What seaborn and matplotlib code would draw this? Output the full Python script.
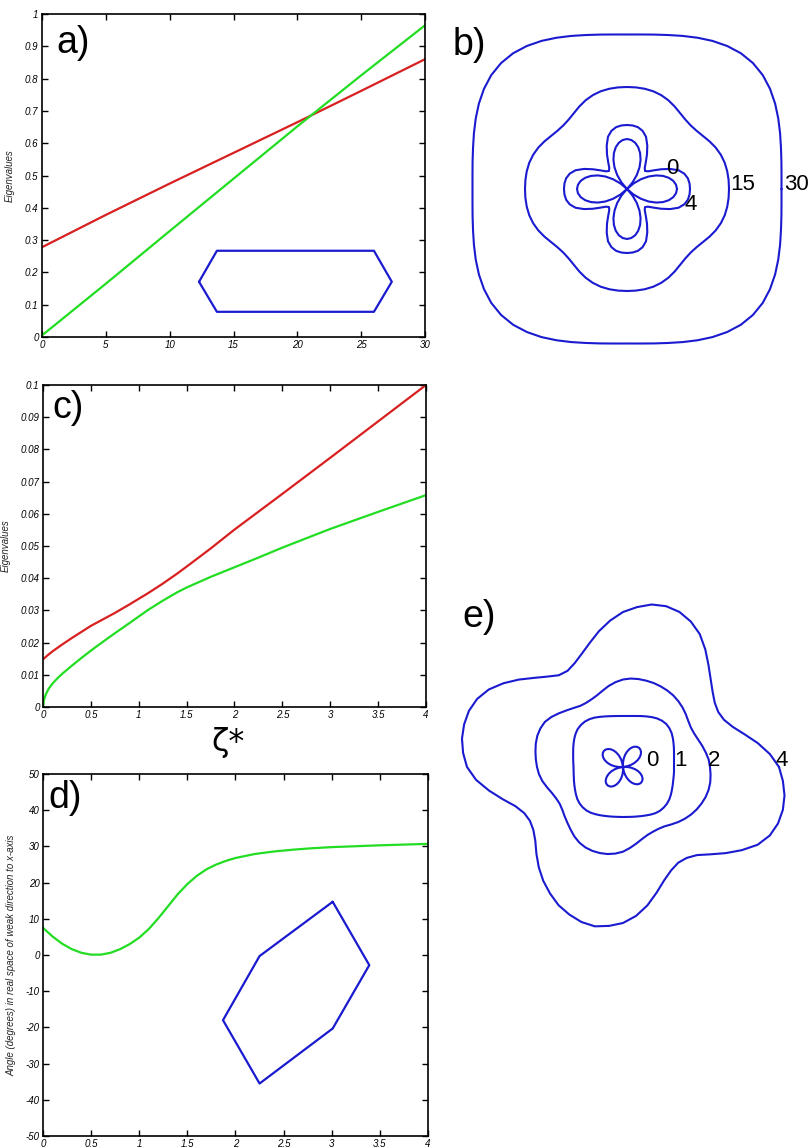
import numpy as np
import matplotlib
matplotlib.use("Agg")
import matplotlib.pyplot as plt
import seaborn as sns

# ---- panel a: eigenvalues vs parameter (0..30) ----
a_x = [0, 5, 10, 15, 20, 25, 30]
a_red = [0.278, 0.378, 0.475, 0.570, 0.665, 0.762, 0.860]
a_green = [0.005, 0.165, 0.328, 0.490, 0.652, 0.810, 0.965]
a_hex_x = [12.3, 13.7, 26.0, 27.4, 26.0, 13.7, 12.3]
a_hex_y = [0.171, 0.267, 0.267, 0.171, 0.078, 0.078, 0.171]

# ---- panel c: eigenvalues vs zeta* ----
c_red_x = [0, 0.05, 0.1, 0.2, 0.3, 0.4, 0.5, 0.6, 0.75, 0.9, 1.0, 1.1, 1.25,
           1.4, 1.5, 1.75, 2, 2.5, 3, 3.5, 4]
c_red = [0.0148, 0.0161, 0.0173, 0.0194, 0.0214, 0.0233, 0.0252, 0.0268,
         0.0292, 0.0318, 0.0336, 0.0354, 0.0383, 0.0414, 0.0436, 0.0492,
         0.0551, 0.0662, 0.0774, 0.0887, 0.100]
c_green_x = [0, 0.01, 0.03, 0.06, 0.1, 0.15, 0.2, 0.3, 0.4, 0.5, 0.6, 0.75,
             0.9, 1.0, 1.1, 1.25, 1.4, 1.5, 1.75, 2, 2.25, 2.5, 3, 3.5, 4]
c_green = [0, 0.0022, 0.0040, 0.0057, 0.0073, 0.0089, 0.0103, 0.0128, 0.0152,
           0.0175, 0.0197, 0.0229, 0.0260, 0.0281, 0.0302, 0.0330, 0.0356,
           0.0371, 0.0404, 0.0434, 0.0464, 0.0495, 0.0553, 0.0606, 0.0658]

# ---- panel d: angle of weak direction ----
d_x = [0, 0.05, 0.1, 0.2, 0.3, 0.4, 0.5, 0.6, 0.7, 0.8, 0.9, 1.0, 1.1, 1.2,
       1.3, 1.4, 1.5, 1.6, 1.7, 1.8, 1.9, 2.0, 2.2, 2.4, 2.6, 2.8, 3.0, 3.5, 4]
d_green = [7.5, 6.3, 5.1, 3.1, 1.6, 0.6, 0.1, 0.1, 0.6, 1.6, 3.0, 4.8, 7.2,
           10.2, 13.5, 16.8, 19.6, 21.9, 23.7, 25.0, 26.0, 26.8, 27.9, 28.6,
           29.1, 29.5, 29.8, 30.3, 30.7]
d_hex_x = [3.01, 3.39, 3.01, 2.25, 1.87, 2.25, 3.01]
d_hex_y = [14.7, -2.8, -20.3, -35.5, -18.0, -0.3, 14.7]

# ---- panels b and e: polar curves, radius every 5 degrees (0..355) ----
b_labels = ["0", "4", "15", "30"]
b_r0 = [50, 49.2, 47, 43.3, 38.3, 32.1, 25, 17.1, 8.7, 0, 8.7, 17.1, 25, 32.1, 38.3, 43.3, 47, 49.2,
        50, 49.2, 47, 43.3, 38.3, 32.1, 25, 17.1, 8.7, 0, 8.7, 17.1, 25, 32.1, 38.3, 43.3, 47, 49.2,
        50, 49.2, 47, 43.3, 38.3, 32.1, 25, 17.1, 8.7, 0, 8.7, 17.1, 25, 32.1, 38.3, 43.3, 47, 49.2,
        50, 49.2, 47, 43.3, 38.3, 32.1, 25, 17.1, 8.7, 0, 8.7, 17.1, 25, 32.1, 38.3, 43.3, 47, 49.2]
b_r4 = [63, 62.8, 61.8, 59.3, 54.8, 47.5, 39.5, 32.5, 27.5, 25.5, 27.6, 32.8, 40, 48, 55.6, 60.2, 62.8, 63.8,
        64, 63.8, 62.8, 60.2, 55.6, 48, 40, 32.8, 27.6, 25.5, 27.5, 32.5, 39.5, 47.5, 54.8, 59.3, 61.8, 62.8,
        63, 62.8, 61.8, 59.3, 54.8, 47.5, 39.5, 32.5, 27.5, 25.5, 27.6, 32.8, 40, 48, 55.6, 60.2, 62.8, 63.8,
        64, 63.8, 62.8, 60.2, 55.6, 48, 40, 32.8, 27.6, 25.5, 27.5, 32.5, 39.5, 47.5, 54.8, 59.3, 61.8, 62.8]
b_r15 = [102, 102, 101.8, 101.2, 99.9, 97.9, 95.3, 92.6, 90.7, 90, 90.7, 92.6, 95.3, 97.9, 99.9, 101.2, 101.8, 102,
         102, 102, 101.8, 101.2, 99.9, 97.9, 95.3, 92.6, 90.7, 90, 90.7, 92.6, 95.3, 97.9, 99.9, 101.2, 101.8, 102,
         102, 102, 101.8, 101.2, 99.9, 97.9, 95.3, 92.6, 90.7, 90, 90.7, 92.6, 95.3, 97.9, 99.9, 101.2, 101.8, 102,
         102, 102, 101.8, 101.2, 99.9, 97.9, 95.3, 92.6, 90.7, 90, 90.7, 92.6, 95.3, 97.9, 99.9, 101.2, 101.8, 102]
b_r30 = [154.5, 155.1, 156.8, 159.4, 162.9, 166.9, 171.0, 174.6, 177.2, 178.1, 177.2, 174.6, 171.0, 166.9, 162.9, 159.4, 156.8, 155.1,
         154.5, 155.1, 156.8, 159.4, 162.9, 166.9, 171.0, 174.6, 177.2, 178.1, 177.2, 174.6, 171.0, 166.9, 162.9, 159.4, 156.8, 155.1,
         154.5, 155.1, 156.8, 159.4, 162.9, 166.9, 171.0, 174.6, 177.2, 178.1, 177.2, 174.6, 171.0, 166.9, 162.9, 159.4, 156.8, 155.1,
         154.5, 155.1, 156.8, 159.4, 162.9, 166.9, 171.0, 174.6, 177.2, 178.1, 177.2, 174.6, 171.0, 166.9, 162.9, 159.4, 156.8, 155.1]
b_label_pos = [(45, 20), (64, -15), (116, 5), (169, 5)]

e_labels = ["0", "1", "2", "4"]
e_r0 = [4.3, 0, 4.3, 8.6, 12.5, 16.1, 19.2, 21.7, 23.5, 24.6, 25, 24.6, 23.5, 21.7, 19.2, 16.1, 12.5, 8.6,
        4.3, 0, 4.3, 8.6, 12.5, 16.1, 19.2, 21.7, 23.5, 24.6, 25, 24.6, 23.5, 21.7, 19.2, 16.1, 12.5, 8.6,
        4.2, 0, 4.2, 8.3, 12.0, 15.5, 18.4, 20.8, 22.6, 23.6, 24, 23.6, 22.6, 20.8, 18.4, 15.5, 12.0, 8.3,
        4.2, 0, 4.2, 8.3, 12.0, 15.5, 18.4, 20.8, 22.6, 23.6, 24, 23.6, 22.6, 20.8, 18.4, 15.5, 12.0, 8.3]
e_r1 = [51, 51.2, 51.8, 52.8, 54.2, 55.8, 57.6, 59.3, 60.5, 61, 60.5, 59.3, 57.6, 55.8, 54.2, 52.8, 51.8, 51.2,
        51, 51.2, 51.7, 52.6, 53.8, 55.3, 57, 58.4, 59.3, 59.5, 59.1, 57.9, 56.3, 54.6, 53, 51.6, 50.6, 49.9,
        49.5, 49.6, 50, 50.8, 51.8, 53, 54.4, 55.8, 56.7, 57, 56.8, 55.9, 54.6, 53.3, 52.1, 51.2, 50.5, 50.1,
        50, 50.1, 50.6, 51.3, 52.3, 53.5, 55, 56.4, 57.3, 57.5, 57.3, 56.5, 55.3, 54, 52.9, 52, 51.5, 51.2]
e_r2 = [87, 86, 84, 82, 80, 78.7, 78.5, 79.8, 82, 84.2, 86, 87.5, 88.4, 89, 89.4, 89.4, 89.3, 88.8,
        87.5, 85.2, 82.3, 79, 76.2, 74.6, 74, 74.6, 77, 80, 83.6, 87.3, 90.2, 91.2, 91.2, 90.3, 88.9, 87.5,
        86, 84.3, 81.8, 78.6, 75.7, 73.9, 73.2, 74.2, 76.3, 78.7, 81.6, 84.8, 87.3, 88.8, 89.3, 89.1, 88.4, 86.9,
        84.7, 81.2, 77.6, 74.4, 72.2, 71.3, 71.3, 72.4, 75, 77.9, 80.6, 83, 85, 86.6, 87.9, 88.6, 88.6, 87.9]
e_r4 = [156, 147.5, 137, 126, 117, 111.5, 110, 112, 117, 124, 133, 143.5, 153.5, 160.5, 165, 166.5, 165, 160.5,
        155, 147, 138, 128.5, 120.5, 114.5, 111, 112, 118, 126, 136, 146, 155, 161, 164, 164.5, 163.5, 160.5,
        156, 147.5, 136, 124.5, 114.5, 109, 107.5, 109.5, 114.5, 122.5, 131, 139, 146, 152.5, 157, 160.5, 161.8, 159.5,
        156, 149.5, 140.5, 130, 120.5, 114, 110.5, 111, 115, 123.5, 134, 145, 155.5, 162, 165, 165.5, 164, 160.5]
e_label_pos = [(29, 6), (57, 6), (91, 6), (159, 6)]

RED = "#d82020"
GREEN = "#22dd22"
BLUE = "#1a1ad0"

sns.set_style("ticks")
plt.rcParams["font.family"] = ["Liberation Sans", "DejaVu Sans"]

W, H = 812, 1148
fig = plt.figure(figsize=(W / 100, H / 100), dpi=100)


def px_axes(left, top, right, bottom):
    return fig.add_axes([left / W, 1 - bottom / H, (right - left) / W, (bottom - top) / H])


def style_box(ax, xticks, yticks, xlim, ylim):
    ax.set_xlim(xlim)
    ax.set_ylim(ylim)
    ax.set_xticks(xticks, labels=[f"{t:g}" for t in xticks], fontstyle="italic", fontsize=7)
    ax.set_yticks(yticks, labels=[f"{t:g}" for t in yticks], fontstyle="italic", fontsize=7)
    ax.tick_params(direction="in", top=True, right=True, bottom=True, left=True,
                   length=4, width=1, colors="k", pad=2.5)
    for s in ax.spines.values():
        s.set_visible(True)
        s.set_color("k")
        s.set_linewidth(1.2)


def closed(r):
    th = np.deg2rad(np.arange(0, 365, 5))
    rr = np.append(np.asarray(r, float), r[0])
    return rr * np.cos(th), rr * np.sin(th)


# a)
ax = px_axes(42, 14, 425, 337)
sns.lineplot(x=a_x, y=a_red, color=RED, lw=1.6, ax=ax)
sns.lineplot(x=a_x, y=a_green, color=GREEN, lw=1.6, ax=ax)
sns.lineplot(x=a_hex_x, y=a_hex_y, sort=False, estimator=None, color=BLUE, lw=1.6, ax=ax)
style_box(ax, np.arange(0, 31, 5), np.round(np.arange(0, 1.01, 0.1), 2), (0, 30), (0, 1))
ax.set_ylabel("Eigenvalues", fontsize=7, fontstyle="italic")
ax.yaxis.set_label_coords(-0.07, 0.5)

# c)
ax = px_axes(43, 385, 426, 707)
sns.lineplot(x=c_red_x, y=c_red, color=RED, lw=1.6, ax=ax)
sns.lineplot(x=c_green_x, y=c_green, color=GREEN, lw=1.6, ax=ax)
style_box(ax, np.arange(0, 4.01, 0.5), np.round(np.arange(0, 0.101, 0.01), 3), (0, 4), (0, 0.1))
ax.set_ylabel("Eigenvalues", fontsize=7, fontstyle="italic")
ax.yaxis.set_label_coords(-0.084, 0.5)

# d)
ax = px_axes(43, 774, 428, 1136)
sns.lineplot(x=d_x, y=d_green, color=GREEN, lw=1.6, ax=ax)
sns.lineplot(x=d_hex_x, y=d_hex_y, sort=False, estimator=None, color=BLUE, lw=1.6, ax=ax)
style_box(ax, np.arange(0, 4.01, 0.5), np.arange(-50, 51, 10), (0, 4), (-50, 50))
ax.set_ylabel("Angle (degrees) in real space of weak direction to x-axis",
              fontsize=7, fontstyle="italic")
ax.yaxis.set_label_coords(-0.068, 0.5)

# b)
ax = px_axes(440, 0, 812, 370)
for r in [b_r0, b_r4, b_r15, b_r30]:
    x, y = closed(r)
    sns.lineplot(x=x, y=y, sort=False, estimator=None, color=BLUE, lw=1.5, ax=ax)
for lab, (x, y) in zip(b_labels, b_label_pos):
    ax.text(x, y, lab, fontsize=16, ha="center", va="center", color="k")
ax.set_xlim(-187, 185)
ax.set_ylim(-181, 189)
ax.axis("off")

# e)
ax = px_axes(440, 580, 812, 950)
for r in [e_r0, e_r1, e_r2, e_r4]:
    x, y = closed(r)
    sns.lineplot(x=x, y=y, sort=False, estimator=None, color=BLUE, lw=1.5, ax=ax)
for lab, (x, y) in zip(e_labels, e_label_pos):
    ax.text(x, y, lab, fontsize=16, ha="center", va="center", color="k")
ax.set_xlim(-183, 189)
ax.set_ylim(-183, 187)
ax.axis("off")

# panel letters and zeta label
for lab, (x, y) in {"a)": (56, 53), "b)": (453, 55), "c)": (52, 418),
                    "d)": (48, 808), "e)": (462, 627)}.items():
    fig.text(x / W, 1 - y / H, lab, fontsize=27, ha="left", va="baseline", color="k")
fig.text(228 / W, 1 - 751 / H, "ζ*", fontsize=23, ha="center", va="baseline",
         family="DejaVu Sans", color="k")

fig.savefig("out.png", dpi=100)
